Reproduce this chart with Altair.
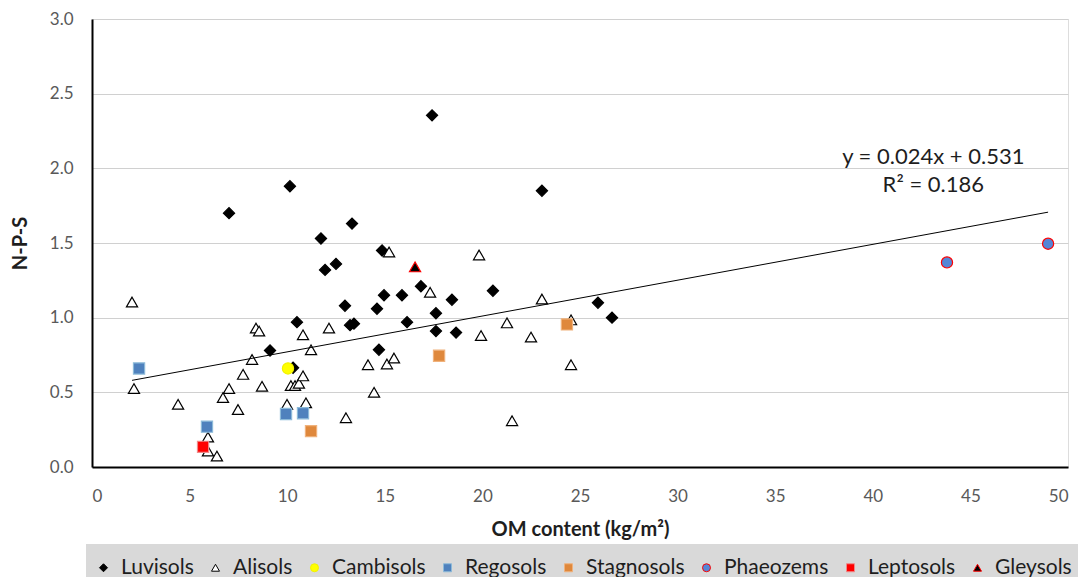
import altair as alt
import pandas as pd

# ---------------- data ----------------
luvisols_x = [17.42, 23.05, 10.14, 7.02, 13.32, 11.73, 14.86, 11.94, 12.50, 16.85,
              14.96, 15.88, 12.96, 14.60, 18.44, 20.54, 17.62, 10.50, 13.22, 13.42,
              16.14, 17.62, 18.65, 14.70, 9.12, 10.30, 25.92, 26.64]
luvisols_y = [2.355, 1.85, 1.88, 1.70, 1.63, 1.53, 1.45, 1.32, 1.36, 1.21,
              1.15, 1.15, 1.08, 1.06, 1.12, 1.18, 1.03, 0.97, 0.95, 0.96,
              0.97, 0.91, 0.90, 0.785, 0.78, 0.665, 1.10, 1.00]

alisols_x = [2.05, 15.22, 19.83, 17.32, 23.05, 8.40, 8.56, 12.14, 10.81, 11.22,
             19.93, 21.26, 22.49, 24.54, 24.54, 21.52, 14.14, 15.11, 15.47, 14.45,
             13.01, 8.20, 7.74, 2.15, 7.02, 6.71, 8.71, 4.41, 7.48, 10.19,
             10.40, 10.60, 10.81, 9.99, 10.96, 5.94, 5.94, 6.40]
alisols_y = [1.105, 1.44, 1.42, 1.17, 1.125, 0.93, 0.91, 0.93, 0.885, 0.785,
             0.88, 0.965, 0.87, 0.985, 0.685, 0.31, 0.685, 0.69, 0.73, 0.50,
             0.33, 0.72, 0.62, 0.525, 0.525, 0.465, 0.54, 0.42, 0.385, 0.545,
             0.545, 0.56, 0.61, 0.42, 0.43, 0.20, 0.107, 0.073]

cambisols_x = [10.04]
cambisols_y = [0.66]

regosols_x = [2.41, 5.89, 9.94, 10.81]
regosols_y = [0.66, 0.27, 0.355, 0.36]

stagnosols_x = [17.78, 11.22, 24.33]
stagnosols_y = [0.745, 0.24, 0.955]

phaeozems_x = [43.80, 48.98]
phaeozems_y = [1.37, 1.495]

leptosols_x = [5.69]
leptosols_y = [0.135]

gleysols_x = [16.55]
gleysols_y = [1.34]

categories = ["Luvisols", "Alisols", "Cambisols", "Regosols",
              "Stagnosols", "Phaeozems", "Leptosols", "Gleysols"]
series = [(luvisols_x, luvisols_y), (alisols_x, alisols_y), (cambisols_x, cambisols_y),
          (regosols_x, regosols_y), (stagnosols_x, stagnosols_y),
          (phaeozems_x, phaeozems_y), (leptosols_x, leptosols_y),
          (gleysols_x, gleysols_y)]

shapes = ["diamond", "triangle-up", "circle", "square", "square", "circle", "square", "triangle-up"]
fills = ["#000000", "#ffffff", "#ffff00", "#4f81bd", "#df883c", "#5586d6", "#ff0000", "#000000"]
strokes = ["#000000", "#000000", "#f2f200", "#8cbad9", "#f0b27c", "#ff0000", "#f08a8a", "#ff0000"]

x_ticks = [0, 5, 10, 15, 20, 25, 30, 35, 40, 45, 50]
y_ticks = [0.0, 0.5, 1.0, 1.5, 2.0, 2.5, 3.0]

slope = 0.024
intercept = 0.531
eq_lines = ["y = 0.024x + 0.531", "R² = 0.186"]
eq_x = [43.1, 43.1]
eq_y = [2.076, 1.89]

# ---------------- tables ----------------
rows = []
for cat, (xs, ys) in zip(categories, series):
    for xv, yv in zip(xs, ys):
        rows.append({"soil": cat, "x": xv, "y": yv})
df = pd.DataFrame(rows)

all_x = [r["x"] for r in rows]
trend_df = pd.DataFrame({"x": [min(all_x), max(all_x)]})
trend_df["y"] = slope * trend_df["x"] + intercept

eq_df = pd.DataFrame({"x": eq_x, "y": eq_y, "t": eq_lines})

FONT = "Lato"
x_scale = alt.Scale(domain=[0, 50], nice=False)
y_scale = alt.Scale(domain=[0, 3], nice=False)

legend = alt.Legend(
    title=None, orient="none", legendX=1, legendY=538,
    direction="horizontal", columns=8,
    labelFont=FONT, labelFontSize=21, labelColor="#1e1e1e",
    symbolSize=64, symbolStrokeWidth=1, labelOffset=7, columnPadding=11,
    padding=0,
)

band = alt.Chart(pd.DataFrame({"a": [0]})).mark_rect(color="#d9d9d9").encode(
    x=alt.value(-6), x2=alt.value(990), y=alt.value(525), y2=alt.value(575)
)

points = alt.Chart(df).mark_point(filled=True, size=125, opacity=1, strokeWidth=1.2).encode(
    x=alt.X("x:Q", scale=x_scale, title="OM content (kg/m²)",
            axis=alt.Axis(values=x_ticks, format="d", grid=False, ticks=False,
                          domainColor="#000000", domainWidth=2,
                          labelFont=FONT, labelFontSize=17, labelColor="#595959",
                          labelPadding=21,
                          titleFont=FONT, titleFontSize=20, titleFontWeight="bold",
                          titleColor="#1e1e1e", titleY=62, titleBaseline="middle")),
    y=alt.Y("y:Q", scale=y_scale, title="N-P-S",
            axis=alt.Axis(values=y_ticks, format=".1f", grid=True,
                          gridColor="#d0d0d0", gridWidth=1.2, ticks=False,
                          domainColor="#000000", domainWidth=2,
                          labelFont=FONT, labelFontSize=17, labelColor="#595959",
                          labelPadding=19,
                          titleFont=FONT, titleFontSize=20, titleFontWeight="bold",
                          titleColor="#1e1e1e", titleX=-72, titleY=224,
                          titleBaseline="middle")),
    shape=alt.Shape("soil:N", scale=alt.Scale(domain=categories, range=shapes), legend=legend),
    fill=alt.Fill("soil:N", scale=alt.Scale(domain=categories, range=fills), legend=legend),
    stroke=alt.Stroke("soil:N", scale=alt.Scale(domain=categories, range=strokes), legend=legend),
)

trend = alt.Chart(trend_df).mark_line(color="#000000", strokeWidth=1).encode(
    x=alt.X("x:Q", scale=x_scale), y=alt.Y("y:Q", scale=y_scale)
)

eq = alt.Chart(eq_df).mark_text(font=FONT, fontSize=22, color="#1e1e1e").encode(
    x=alt.X("x:Q", scale=x_scale), y=alt.Y("y:Q", scale=y_scale), text="t:N"
)

chart = alt.layer(band, points, trend, eq).properties(
    width=976, height=448,
    padding={"left": 84, "top": 11, "right": 10, "bottom": 110},
    autosize=alt.AutoSizeParams(type="none"),
).configure_view(stroke=None).configure(background="#ffffff")

chart.save("out.html", embed_options={"renderer": "svg", "actions": False})
